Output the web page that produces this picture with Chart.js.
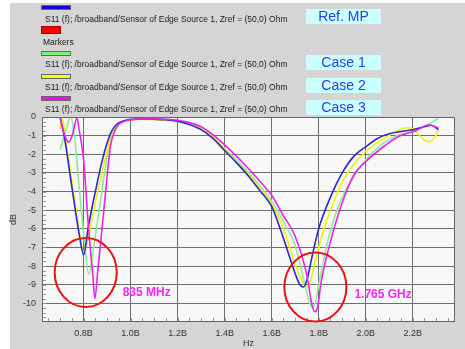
<!DOCTYPE html>
<html>
<head>
<meta charset="utf-8">
<script src="https://cdn.jsdelivr.net/npm/chart.js@4.4.1/dist/chart.umd.min.js"></script>
<style>
    body { margin: 0; background: #fff; }
    #wrap { position: relative; width: 465px; height: 349px; font-family: "Liberation Sans", Arial, sans-serif; }
    #chart { position: absolute; left: 0; top: 0; }
    .swatch { position: absolute; left: 41px; width: 28px; height: 3px; border: 1px solid #666; }
    .trace { position: absolute; left: 45px; font-size: 8.5px; color: #1a1a1a; white-space: nowrap; line-height: 10px; }
    .case { position: absolute; left: 306px; width: 75px; height: 15px; background: #ccffff; color: #2a40e8; font-size: 14px; line-height: 15px; text-align: center; }
</style>
</head>
<body>
<div id="wrap">
    <canvas id="chart" width="465" height="349"></canvas>
    <div id="legend"></div>
</div>
<script>
// S11 traces, frequency in GHz (axis shows it as "B"), values in dB
const freqRef = [0.70, 0.72, 0.74, 0.76, 0.78, 0.80, 0.82, 0.84, 0.86, 0.88, 0.90, 0.92, 0.94, 0.96, 0.98, 1.00, 1.05, 1.10, 1.15, 1.20, 1.25, 1.30, 1.35, 1.40, 1.45, 1.50, 1.55, 1.60, 1.65, 1.70, 1.72, 1.735, 1.75, 1.77, 1.80, 1.85, 1.90, 1.95, 2.00, 2.05, 2.10, 2.15, 2.20, 2.25, 2.28, 2.31];
const dbRef   = [0.0, -1.2, -2.9, -4.6, -6.2, -7.4, -5.9, -4.6, -3.4, -2.3, -1.4, -0.75, -0.4, -0.25, -0.17, -0.13, -0.1, -0.12, -0.15, -0.22, -0.4, -0.68, -1.15, -1.8, -2.45, -3.15, -3.95, -4.8, -6.5, -8.4, -9.0, -9.12, -8.75, -7.6, -6.0, -4.3, -3.0, -2.1, -1.6, -1.15, -0.9, -0.78, -0.68, -0.52, -0.44, -0.68];

const freqCase1 = [0.70, 0.72, 0.745, 0.76, 0.78, 0.80, 0.822, 0.84, 0.86, 0.88, 0.90, 0.92, 0.94, 0.96, 0.98, 1.00, 1.05, 1.10, 1.15, 1.20, 1.25, 1.30, 1.35, 1.40, 1.45, 1.50, 1.55, 1.60, 1.65, 1.70, 1.74, 1.762, 1.775, 1.788, 1.80, 1.84, 1.89, 1.95, 2.00, 2.07, 2.14, 2.21, 2.26, 2.31];
const dbCase1   = [-1.77, -0.9, 0.0, -0.9, -3.6, -6.2, -8.45, -7.2, -5.5, -3.8, -2.1, -0.95, -0.5, -0.3, -0.2, -0.15, -0.12, -0.13, -0.15, -0.2, -0.35, -0.6, -1.05, -1.7, -2.3, -2.95, -3.7, -4.5, -5.6, -6.9, -8.9, -10.0, -10.2, -9.85, -9.0, -6.6, -4.6, -3.2, -2.3, -1.45, -0.97, -0.75, -0.43, -0.07];

const freqCase2 = [0.70, 0.71, 0.72, 0.74, 0.76, 0.78, 0.80, 0.82, 0.84, 0.86, 0.88, 0.90, 0.92, 0.94, 0.96, 0.98, 1.00, 1.05, 1.10, 1.15, 1.20, 1.25, 1.30, 1.35, 1.40, 1.45, 1.50, 1.55, 1.60, 1.65, 1.70, 1.735, 1.752, 1.765, 1.78, 1.82, 1.86, 1.90, 1.94, 2.00, 2.07, 2.14, 2.17, 2.21, 2.24, 2.27, 2.30, 2.31];
const dbCase2   = [-0.65, -0.1, -0.9, -2.6, -4.3, -6.0, -7.25, -6.5, -5.2, -4.0, -2.9, -1.8, -1.0, -0.5, -0.3, -0.2, -0.15, -0.12, -0.14, -0.17, -0.22, -0.38, -0.63, -1.1, -1.75, -2.4, -3.05, -3.85, -4.65, -6.0, -7.9, -8.95, -9.1, -8.8, -8.0, -6.1, -4.7, -3.5, -2.7, -1.85, -1.2, -0.72, -0.58, -0.7, -1.15, -1.33, -0.97, -0.7];

const freqCase3 = [0.70, 0.71, 0.72, 0.736, 0.75, 0.76, 0.772, 0.78, 0.80, 0.82, 0.84, 0.848, 0.86, 0.872, 0.893, 0.914, 0.943, 0.97, 1.00, 1.05, 1.10, 1.15, 1.20, 1.25, 1.30, 1.35, 1.40, 1.45, 1.50, 1.55, 1.60, 1.65, 1.70, 1.75, 1.772, 1.785, 1.797, 1.81, 1.85, 1.90, 1.95, 2.00, 2.07, 2.14, 2.21, 2.27, 2.31];
const dbCase3   = [0.0, -0.55, -1.0, -1.35, -1.05, -0.55, -0.05, -0.6, -2.3, -5.8, -8.6, -9.75, -8.3, -6.8, -4.1, -1.6, -0.5, -0.25, -0.15, -0.1, -0.1, -0.12, -0.17, -0.3, -0.52, -0.95, -1.5, -2.1, -2.75, -3.45, -4.2, -5.3, -6.4, -8.5, -10.1, -10.45, -10.1, -8.9, -6.7, -4.6, -3.1, -2.4, -1.65, -1.05, -0.75, -0.43, -0.58];

const xTicks = [0.8, 1.0, 1.2, 1.4, 1.6, 1.8, 2.0, 2.2];
const yTicks = [0, -1, -2, -3, -4, -5, -6, -7, -8, -9, -10];

const traceName = 'S11 (f); /broadband/Sensor of Edge Source 1, Zref = (50,0) Ohm';

// highlighted resonances
const markLabels = ['835 MHz', '1.765 GHz'];
const markCenters = [[0.809, -8.34], [1.786, -9.12]];
const markTextAt = [[0.966, -9.45], [1.952, -9.55]];

function zip(xs, ys) {
    return xs.map((x, i) => ({ x: x, y: ys[i] }));
}

function buildLegend() {
    const rows = [
        { color: '#0a0ad0', swatchTop: 5, textTop: 14, text: traceName, tag: 'Ref. MP', tagTop: 9 },
        { color: '#ff0000', swatchTop: 26, textTop: 37, text: 'Markers', small: true },
        { color: '#80f080', swatchTop: 51, textTop: 59, text: traceName, tag: 'Case 1', tagTop: 55 },
        { color: '#ffff00', swatchTop: 74, textTop: 82, text: traceName, tag: 'Case 2', tagTop: 78 },
        { color: '#ff00ff', swatchTop: 96, textTop: 104, text: traceName, tag: 'Case 3', tagTop: 100 }
    ];
    const box = document.getElementById('legend');
    rows.forEach(r => {
        const sw = document.createElement('div');
        sw.className = 'swatch';
        sw.style.top = r.swatchTop + 'px';
        sw.style.background = r.color;
        if (r.small) {
            sw.style.width = '18px';
            sw.style.height = '6px';
            sw.style.borderColor = '#a00';
        }
        box.appendChild(sw);

        const t = document.createElement('div');
        t.className = 'trace';
        t.style.top = r.textTop + 'px';
        if (r.small) t.style.left = '43px';
        t.textContent = r.text;
        box.appendChild(t);

        if (r.tag) {
            const c = document.createElement('div');
            c.className = 'case';
            c.style.top = r.tagTop + 'px';
            c.textContent = r.tag;
            box.appendChild(c);
        }
    });
}

const framePlugin = {
    id: 'frame',
    beforeDraw(chart) {
        const ctx = chart.ctx;
        const a = chart.chartArea;
        ctx.save();
        ctx.fillStyle = '#ffffff';
        ctx.fillRect(0, 0, chart.width, chart.height);
        ctx.fillStyle = '#d5d5d5';
        ctx.fillRect(10, 3, chart.width - 10, chart.height - 3);
        ctx.fillStyle = '#f8f8f8';
        ctx.fillRect(a.left, a.top, a.right - a.left, a.bottom - a.top);
        ctx.restore();
    },
    beforeDatasetsDraw(chart) {
        // minor ticks inside the plot box
        const ctx = chart.ctx;
        const a = chart.chartArea;
        const xs = chart.scales.x;
        const ys = chart.scales.y;
        ctx.save();
        ctx.strokeStyle = '#9a9a9a';
        ctx.lineWidth = 1;
        ctx.beginPath();
        for (let v = 0.65; v < 2.38; v += 0.05) {
            const px = Math.round(xs.getPixelForValue(v)) + 0.5;
            ctx.moveTo(px, a.bottom);
            ctx.lineTo(px, a.bottom - 4);
        }
        for (let v = -10.75; v < 0; v += 0.25) {
            const py = Math.round(ys.getPixelForValue(v)) + 0.5;
            ctx.moveTo(a.left, py);
            ctx.lineTo(a.left + 4, py);
        }
        ctx.stroke();
        ctx.restore();
    },
    afterDatasetsDraw(chart) {
        const ctx = chart.ctx;
        const a = chart.chartArea;
        const xs = chart.scales.x;
        const ys = chart.scales.y;
        ctx.save();
        ctx.strokeStyle = '#666';
        ctx.lineWidth = 1;
        ctx.strokeRect(a.left + 0.5, a.top + 0.5, a.right - a.left - 1, a.bottom - a.top - 1);

        ctx.strokeStyle = '#ee1111';
        ctx.lineWidth = 2;
        markCenters.forEach(c => {
            const cx = xs.getPixelForValue(c[0]);
            const cy = ys.getPixelForValue(c[1]);
            const rx = xs.getPixelForValue(c[0] + 0.132) - cx;
            const ry = ys.getPixelForValue(c[1] - 1.85) - cy;
            ctx.beginPath();
            ctx.ellipse(cx, cy, rx, ry, 0, 0, Math.PI * 2);
            ctx.stroke();
        });

        ctx.fillStyle = '#ff22ff';
        ctx.font = 'bold 12px "Liberation Sans", Arial, sans-serif';
        ctx.textBaseline = 'middle';
        markLabels.forEach((label, i) => {
            const p = markTextAt[i];
            ctx.fillText(label, xs.getPixelForValue(p[0]), ys.getPixelForValue(p[1]));
        });
        ctx.restore();
    }
};

const lineStyle = { borderWidth: 1.6, pointRadius: 0, fill: false, cubicInterpolationMode: 'monotone' };

new Chart(document.getElementById('chart'), {
    type: 'line',
    data: {
        datasets: [
            Object.assign({ label: 'Case 3', data: zip(freqCase3, dbCase3), borderColor: '#ee22ee', order: 0 }, lineStyle),
            Object.assign({ label: 'Ref. MP', data: zip(freqRef, dbRef), borderColor: '#2a2ad0', order: 1 }, lineStyle),
            Object.assign({ label: 'Case 2', data: zip(freqCase2, dbCase2), borderColor: '#f2f200', order: 2 }, lineStyle),
            Object.assign({ label: 'Case 1', data: zip(freqCase1, dbCase1), borderColor: '#8aee95', order: 3 }, lineStyle)
        ]
    },
    options: {
        responsive: false,
        animation: false,
        layout: { padding: { top: 117, right: 10, left: 0, bottom: 0 } },
        plugins: { legend: { display: false }, tooltip: { enabled: false } },
        scales: {
            x: {
                type: 'linear',
                min: 0.623,
                max: 2.38,
                afterBuildTicks: s => { s.ticks = xTicks.map(v => ({ value: v })); },
                afterFit: s => { s.height = 27; },
                grid: { color: '#6e6e6e', drawTicks: false },
                border: { display: false },
                ticks: {
                    padding: 6,
                    color: '#333',
                    font: { size: 9, family: '"Liberation Sans", Arial, sans-serif' },
                    callback: v => v.toFixed(1) + 'B'
                },
                title: { display: true, text: 'Hz', color: '#333', padding: 0, font: { size: 9, family: '"Liberation Sans", Arial, sans-serif' } }
            },
            y: {
                type: 'linear',
                min: -11,
                max: 0,
                afterBuildTicks: s => { s.ticks = yTicks.map(v => ({ value: v })); },
                afterFit: s => { s.width = 42; },
                grid: { color: '#6e6e6e', drawTicks: false },
                border: { display: false },
                ticks: {
                    padding: 6,
                    color: '#333',
                    font: { size: 9, family: '"Liberation Sans", Arial, sans-serif' }
                },
                title: { display: true, text: 'dB', color: '#333', padding: { top: 8.5, bottom: 0 }, font: { size: 9, family: '"Liberation Sans", Arial, sans-serif' } }
            }
        }
    },
    plugins: [framePlugin]
});

buildLegend();
</script>
</body>
</html>
